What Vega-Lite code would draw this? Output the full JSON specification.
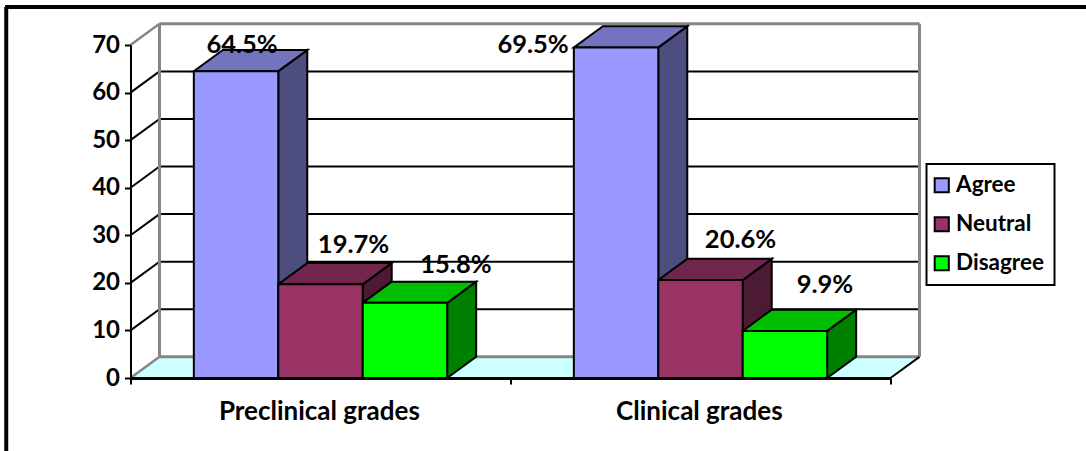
{"$schema":"https://vega.github.io/schema/vega-lite/v6.json","width":760,"height":333,"autosize":"none","padding":{"left":130.5,"top":45,"right":195.5,"bottom":73},"background":"white","config":{"view":{"stroke":null},"font":"Lato","legend":{"strokeWidth":2}},"datasets":{"bars":[{"group":"Preclinical grades","response":"Agree","value":64.5},{"group":"Preclinical grades","response":"Neutral","value":19.7},{"group":"Preclinical grades","response":"Disagree","value":15.8},{"group":"Clinical grades","response":"Agree","value":69.5},{"group":"Clinical grades","response":"Neutral","value":20.6},{"group":"Clinical grades","response":"Disagree","value":9.9}],"grid":[{"v":0},{"v":10},{"v":20},{"v":30},{"v":40},{"v":50},{"v":60},{"v":70}],"cats":[{"group":"Preclinical grades"},{"group":"Clinical grades"}],"floor":[{"t":0},{"t":1}]},"layer":[{"data":{"name":"floor"},"transform":[{"calculate":"datum.t*0.0763","as":"xa"},{"calculate":"2+datum.t*0.0763","as":"xb"},{"calculate":"datum.t*4.45","as":"ya"}],"mark":{"type":"area","orient":"horizontal","fill":"#CCFFFF"},"encoding":{"x":{"field":"xa","type":"quantitative","stack":null,"scale":{"domain":[0,2],"nice":false},"axis":{"title":null,"values":[0,1,2],"labels":false,"grid":false,"tickSize":6,"tickWidth":2,"tickColor":"black","domainColor":"black","domainWidth":3,"zindex":1}},"x2":{"field":"xb"},"y":{"field":"ya","type":"quantitative","scale":{"domain":[0,70],"nice":false},"axis":{"title":null,"values":[0,10,20,30,40,50,60,70],"grid":false,"tickSize":6,"tickWidth":2,"tickColor":"black","domainColor":"black","domainWidth":2,"labelFont":"Lato","labelFontWeight":"bold","labelFontSize":24,"labelColor":"black","labelPadding":5,"zindex":1}}}},{"data":{"name":"grid"},"transform":[{"calculate":"0.0763","as":"xa"},{"calculate":"2.0763","as":"xb"},{"calculate":"datum.v+4.45","as":"ya"}],"mark":{"type":"rule","stroke":"black","strokeWidth":2},"encoding":{"x":{"field":"xa","type":"quantitative","scale":{"domain":[0,2],"nice":false}},"x2":{"field":"xb"},"y":{"field":"ya","type":"quantitative","scale":{"domain":[0,70],"nice":false}},"strokeOpacity":{"condition":{"test":"datum.v===0||datum.v===70","value":0},"value":1}}},{"data":{"name":"grid"},"transform":[{"filter":"datum.v>0&&datum.v<70"},{"calculate":"0","as":"xa"},{"calculate":"0.0763","as":"xb"},{"calculate":"datum.v+4.45","as":"yb"}],"mark":{"type":"rule","stroke":"black","strokeWidth":2},"encoding":{"x":{"field":"xa","type":"quantitative","scale":{"domain":[0,2],"nice":false}},"x2":{"field":"xb"},"y":{"field":"v","type":"quantitative","scale":{"domain":[0,70],"nice":false}},"y2":{"field":"yb"}}},{"data":{"name":"grid"},"transform":[{"filter":"datum.v===0||datum.v===70"},{"calculate":"0","as":"xa"},{"calculate":"0.0763","as":"xb"},{"calculate":"datum.v+4.45","as":"yb"}],"mark":{"type":"rule","stroke":"#868686","strokeWidth":2.5},"encoding":{"x":{"field":"xa","type":"quantitative","scale":{"domain":[0,2],"nice":false}},"x2":{"field":"xb"},"y":{"field":"v","type":"quantitative","scale":{"domain":[0,70],"nice":false}},"y2":{"field":"yb"}}},{"data":{"name":"grid"},"transform":[{"filter":"datum.v===0||datum.v===70"},{"calculate":"0.0763","as":"xa"},{"calculate":"2.0763","as":"xb"},{"calculate":"datum.v+4.45","as":"ya"}],"mark":{"type":"rule","stroke":"#868686","strokeWidth":3},"encoding":{"x":{"field":"xa","type":"quantitative","scale":{"domain":[0,2],"nice":false}},"x2":{"field":"xb"},"y":{"field":"ya","type":"quantitative","scale":{"domain":[0,70],"nice":false}}}},{"data":{"name":"floor"},"transform":[{"calculate":"datum.t*2+0.0763","as":"xa"},{"calculate":"4.45","as":"ya"},{"calculate":"74.45","as":"yb"}],"mark":{"type":"rule","stroke":"#868686","strokeWidth":3},"encoding":{"x":{"field":"xa","type":"quantitative","scale":{"domain":[0,2],"nice":false}},"y":{"field":"ya","type":"quantitative","scale":{"domain":[0,70],"nice":false}},"y2":{"field":"yb"}}},{"data":{"name":"floor"},"transform":[{"filter":"datum.t===1"},{"calculate":"2","as":"xa"},{"calculate":"2.0763","as":"xb"},{"calculate":"0","as":"ya"},{"calculate":"4.45","as":"yb"}],"mark":{"type":"rule","stroke":"black","strokeWidth":2},"encoding":{"x":{"field":"xa","type":"quantitative","scale":{"domain":[0,2],"nice":false}},"x2":{"field":"xb"},"y":{"field":"ya","type":"quantitative","scale":{"domain":[0,70],"nice":false}},"y2":{"field":"yb"}}},{"data":{"name":"bars"},"transform":[{"calculate":"(datum.group==='Clinical grades'?1:0)+1/6+2/9*indexof(['Agree','Neutral','Disagree'],datum.response)","as":"x0"},{"calculate":"datum.x0+2/9","as":"x1"},{"calculate":"{Agree:'#4D4D80',Neutral:'#4D1A33',Disagree:'#008000'}[datum.response]","as":"shade"},{"calculate":"[0,1]","as":"t"},{"flatten":["t"]},{"calculate":"datum.x1+datum.t*0.0763","as":"xa"},{"calculate":"datum.t*4.45","as":"ya"},{"calculate":"datum.value+datum.t*4.45","as":"yb"},{"calculate":"datum.group+datum.response","as":"id"}],"mark":{"type":"area","stroke":"black","strokeWidth":2,"orient":"vertical"},"encoding":{"x":{"field":"xa","type":"quantitative","scale":{"domain":[0,2],"nice":false}},"y":{"field":"ya","type":"quantitative","stack":null,"scale":{"domain":[0,70],"nice":false}},"y2":{"field":"yb"},"detail":{"field":"id"},"color":{"field":"shade","type":"nominal","scale":null,"legend":null}}},{"data":{"name":"bars"},"transform":[{"calculate":"(datum.group==='Clinical grades'?1:0)+1/6+2/9*indexof(['Agree','Neutral','Disagree'],datum.response)","as":"x0"},{"calculate":"datum.x0+2/9","as":"x1"},{"calculate":"{Agree:'#7373BF',Neutral:'#73264D',Disagree:'#00BF00'}[datum.response]","as":"shade"},{"calculate":"[0,1]","as":"t"},{"flatten":["t"]},{"calculate":"datum.x0+datum.t*0.0763","as":"xa"},{"calculate":"datum.x1+datum.t*0.0763","as":"xb"},{"calculate":"datum.value+datum.t*4.45","as":"ya"},{"calculate":"datum.group+datum.response","as":"id"}],"mark":{"type":"area","stroke":"black","strokeWidth":2,"orient":"horizontal"},"encoding":{"x":{"field":"xa","type":"quantitative","stack":null,"scale":{"domain":[0,2],"nice":false}},"x2":{"field":"xb"},"y":{"field":"ya","type":"quantitative","scale":{"domain":[0,70],"nice":false}},"detail":{"field":"id"},"color":{"field":"shade","type":"nominal","scale":null,"legend":null}}},{"data":{"name":"bars"},"transform":[{"calculate":"(datum.group==='Clinical grades'?1:0)+1/6+2/9*indexof(['Agree','Neutral','Disagree'],datum.response)","as":"x0"},{"calculate":"datum.x0+2/9","as":"x1"}],"mark":{"type":"rect","stroke":"black","strokeWidth":2},"encoding":{"x":{"field":"x0","type":"quantitative","scale":{"domain":[0,2],"nice":false}},"x2":{"field":"x1"},"y":{"field":"value","type":"quantitative","scale":{"domain":[0,70],"nice":false}},"y2":{"datum":0},"fill":{"field":"response","type":"nominal","scale":{"domain":["Agree","Neutral","Disagree"],"range":["#9999FF","#993366","#00FF00"]},"legend":{"title":null,"orient":"none","legendX":796,"legendY":119,"symbolType":"square","symbolSize":200,"symbolOffset":-6,"symbolStrokeColor":"black","symbolStrokeWidth":2,"labelFont":"Lato","labelFontWeight":"bold","labelFontSize":22.5,"labelColor":"black","labelOffset":3,"rowPadding":16,"padding":10,"strokeColor":"black","fillColor":"white"}}}},{"data":{"name":"cats"},"transform":[{"calculate":"(datum.group==='Clinical grades'?1:0)+0.497","as":"xa"}],"mark":{"type":"text","font":"Lato","fontWeight":"bold","fontSize":26,"fill":"black","dy":34,"baseline":"middle"},"encoding":{"x":{"field":"xa","type":"quantitative","scale":{"domain":[0,2],"nice":false}},"y":{"datum":0,"type":"quantitative","scale":{"domain":[0,70],"nice":false}},"text":{"field":"group"}}},{"data":{"name":"bars"},"transform":[{"filter":"datum.value===64.5"},{"calculate":"(datum.group==='Clinical grades'?1:0)+1/6+2/9*indexof(['Agree','Neutral','Disagree'],datum.response)+1/9","as":"xa"},{"calculate":"format(datum.value,'.1f')+'%'","as":"lab"}],"mark":{"type":"text","font":"Lato","fontWeight":"bold","fontSize":25.5,"fill":"black","dx":6,"dy":-26,"baseline":"middle"},"encoding":{"x":{"field":"xa","type":"quantitative","scale":{"domain":[0,2],"nice":false}},"y":{"field":"value","type":"quantitative","scale":{"domain":[0,70],"nice":false}},"text":{"field":"lab"}}},{"data":{"name":"bars"},"transform":[{"filter":"datum.value===19.7"},{"calculate":"(datum.group==='Clinical grades'?1:0)+1/6+2/9*indexof(['Agree','Neutral','Disagree'],datum.response)+1/9","as":"xa"},{"calculate":"format(datum.value,'.1f')+'%'","as":"lab"}],"mark":{"type":"text","font":"Lato","fontWeight":"bold","fontSize":25.5,"fill":"black","dx":33,"dy":-39,"baseline":"middle"},"encoding":{"x":{"field":"xa","type":"quantitative","scale":{"domain":[0,2],"nice":false}},"y":{"field":"value","type":"quantitative","scale":{"domain":[0,70],"nice":false}},"text":{"field":"lab"}}},{"data":{"name":"bars"},"transform":[{"filter":"datum.value===15.8"},{"calculate":"(datum.group==='Clinical grades'?1:0)+1/6+2/9*indexof(['Agree','Neutral','Disagree'],datum.response)+1/9","as":"xa"},{"calculate":"format(datum.value,'.1f')+'%'","as":"lab"}],"mark":{"type":"text","font":"Lato","fontWeight":"bold","fontSize":25.5,"fill":"black","dx":51,"dy":-38,"baseline":"middle"},"encoding":{"x":{"field":"xa","type":"quantitative","scale":{"domain":[0,2],"nice":false}},"y":{"field":"value","type":"quantitative","scale":{"domain":[0,70],"nice":false}},"text":{"field":"lab"}}},{"data":{"name":"bars"},"transform":[{"filter":"datum.value===69.5"},{"calculate":"(datum.group==='Clinical grades'?1:0)+1/6+2/9*indexof(['Agree','Neutral','Disagree'],datum.response)+1/9","as":"xa"},{"calculate":"format(datum.value,'.1f')+'%'","as":"lab"}],"mark":{"type":"text","font":"Lato","fontWeight":"bold","fontSize":25.5,"fill":"black","dx":-83,"dy":-2,"baseline":"middle"},"encoding":{"x":{"field":"xa","type":"quantitative","scale":{"domain":[0,2],"nice":false}},"y":{"field":"value","type":"quantitative","scale":{"domain":[0,70],"nice":false}},"text":{"field":"lab"}}},{"data":{"name":"bars"},"transform":[{"filter":"datum.value===20.6"},{"calculate":"(datum.group==='Clinical grades'?1:0)+1/6+2/9*indexof(['Agree','Neutral','Disagree'],datum.response)+1/9","as":"xa"},{"calculate":"format(datum.value,'.1f')+'%'","as":"lab"}],"mark":{"type":"text","font":"Lato","fontWeight":"bold","fontSize":25.5,"fill":"black","dx":40,"dy":-40,"baseline":"middle"},"encoding":{"x":{"field":"xa","type":"quantitative","scale":{"domain":[0,2],"nice":false}},"y":{"field":"value","type":"quantitative","scale":{"domain":[0,70],"nice":false}},"text":{"field":"lab"}}},{"data":{"name":"bars"},"transform":[{"filter":"datum.value===9.9"},{"calculate":"(datum.group==='Clinical grades'?1:0)+1/6+2/9*indexof(['Agree','Neutral','Disagree'],datum.response)+1/9","as":"xa"},{"calculate":"format(datum.value,'.1f')+'%'","as":"lab"}],"mark":{"type":"text","font":"Lato","fontWeight":"bold","fontSize":25.5,"fill":"black","dx":40,"dy":-46,"baseline":"middle"},"encoding":{"x":{"field":"xa","type":"quantitative","scale":{"domain":[0,2],"nice":false}},"y":{"field":"value","type":"quantitative","scale":{"domain":[0,70],"nice":false}},"text":{"field":"lab"}}},{"data":{"name":"floor"},"transform":[{"filter":"datum.t===0"},{"calculate":"-0.327","as":"xa"},{"calculate":"78","as":"ya"},{"calculate":"-16","as":"yb"}],"mark":{"type":"rule","stroke":"black","strokeWidth":4},"encoding":{"x":{"field":"xa","type":"quantitative","scale":{"domain":[0,2],"nice":false}},"y":{"field":"ya","type":"quantitative","scale":{"domain":[0,70],"nice":false}},"y2":{"field":"yb"}}},{"data":{"name":"floor"},"transform":[{"filter":"datum.t===0"},{"calculate":"-0.33","as":"xa"},{"calculate":"2.52","as":"xb"},{"calculate":"78","as":"ya"}],"mark":{"type":"rule","stroke":"black","strokeWidth":4},"encoding":{"x":{"field":"xa","type":"quantitative","scale":{"domain":[0,2],"nice":false}},"x2":{"field":"xb"},"y":{"field":"ya","type":"quantitative","scale":{"domain":[0,70],"nice":false}}}}]}
